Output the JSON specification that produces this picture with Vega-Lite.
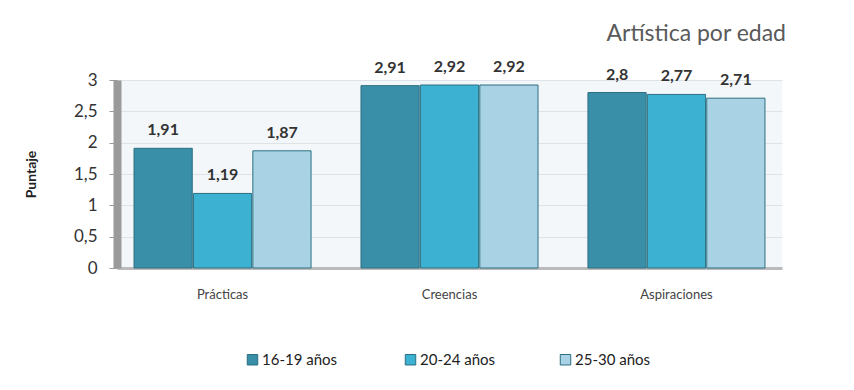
{
  "$schema": "https://vega.github.io/schema/vega-lite/v6.json",
  "width": 665,
  "height": 188,
  "padding": {"left": 24, "top": 23, "right": 50, "bottom": 5},
  "background": "white",
  "title": {"text": "Artística por edad", "anchor": "end", "fontSize": 23, "fontWeight": "normal", "color": "#5a5a5a", "font": "Lato", "offset": 13, "dx": 4},
  "config": {
    "locale": {"number": {"decimal": ",", "thousands": ".", "grouping": [3], "currency": ["", " €"]}},
    "font": "Lato",
    "view": {"stroke": null, "fill": "#f3f7fa"}
  },
  "data": {"values": [
    {"cat": "Prácticas", "grupo": "16-19  años", "valor": 1.91},
    {"cat": "Prácticas", "grupo": "20-24 años", "valor": 1.19},
    {"cat": "Prácticas", "grupo": "25-30 años", "valor": 1.87},
    {"cat": "Creencias", "grupo": "16-19  años", "valor": 2.91},
    {"cat": "Creencias", "grupo": "20-24 años", "valor": 2.92},
    {"cat": "Creencias", "grupo": "25-30 años", "valor": 2.92},
    {"cat": "Aspiraciones", "grupo": "16-19  años", "valor": 2.8},
    {"cat": "Aspiraciones", "grupo": "20-24 años", "valor": 2.77},
    {"cat": "Aspiraciones", "grupo": "25-30 años", "valor": 2.71}
  ]},
  "encoding": {
    "x": {"field": "cat", "type": "nominal", "sort": ["Prácticas", "Creencias", "Aspiraciones"],
      "scale": {"paddingInner": 0.22, "paddingOuter": 0.075},
      "axis": {"title": null, "labelAngle": 0, "labelFontSize": 13, "labelColor": "#444", "labelPadding": 20, "domainColor": "#bbbbbb", "domainWidth": 3, "ticks": false,
        "encode": {"labels": {"enter": {"dy": {"signal": "datum.label === 'Creencias' ? 8 : datum.label === 'Aspiraciones' ? 20 : 0"}}, "update": {"dy": {"signal": "datum.label === 'Creencias' ? 8 : datum.label === 'Aspiraciones' ? 20 : 0"}}}}}},
    "xOffset": {"field": "grupo", "type": "nominal", "sort": ["16-19  años", "20-24 años", "25-30 años"], "scale": {"paddingInner": 0.02}},
    "y": {"field": "valor", "type": "quantitative", "scale": {"domain": [0, 3]},
      "axis": {"title": "Puntaje", "titleFontSize": 14, "titleFontWeight": "bold", "titleColor": "#222", "titlePadding": 35,
        "values": [0, 0.5, 1, 1.5, 2, 2.5, 3], "format": "~g", "labelFontSize": 17, "labelColor": "#333", "labelPadding": 12,
        "tickColor": "#999", "tickSize": 8, "domainColor": "#9a9a9a", "domainWidth": 8, "gridColor": "#dde3e8"}}
  },
  "layer": [
    {
      "mark": {"type": "bar", "stroke": "#2c6f80", "strokeWidth": 1},
      "encoding": {
        "color": {"field": "grupo", "type": "nominal", "sort": ["16-19  años", "20-24 años", "25-30 años"],
          "scale": {"range": ["#3a8fa8", "#3cb1d1", "#a9d3e5"]},
          "legend": {"title": null, "orient": "none", "legendX": 128, "legendY": 272, "direction": "horizontal", "symbolType": "square", "symbolSize": 110,
            "symbolStrokeColor": "#2c6f80", "symbolStrokeWidth": 1, "labelFontSize": 15, "labelColor": "#222", "columnPadding": 62, "labelOffset": 2}}
      }
    },
    {
      "mark": {"type": "text", "dy": -18, "fontSize": 16, "fontWeight": "bold", "color": "#333"},
      "encoding": {"text": {"field": "valor", "type": "quantitative", "format": "~g"}}
    }
  ]
}
